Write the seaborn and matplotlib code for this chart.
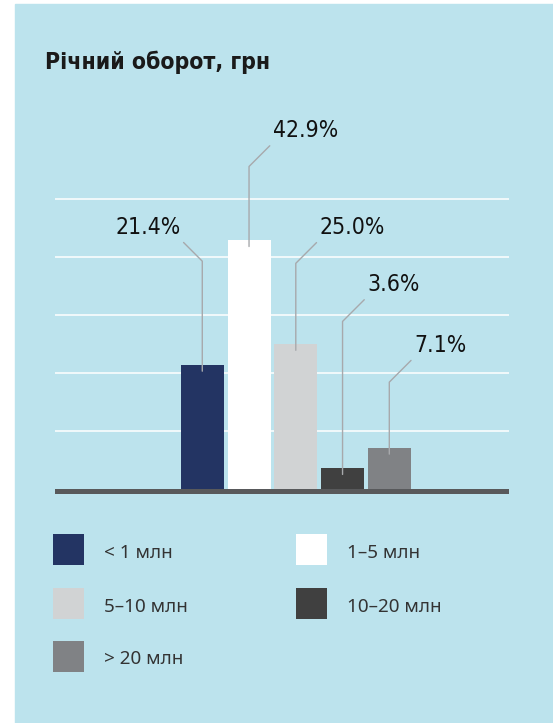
import matplotlib
matplotlib.use("Agg")
import matplotlib.pyplot as plt
import matplotlib.transforms as mtransforms
from matplotlib.patches import Rectangle
import pandas as pd
import seaborn as sns

# --- data -------------------------------------------------------------
title = "Річний оборот, грн"
categories = ["< 1 млн", "1–5 млн", "5–10 млн", "10–20 млн", "> 20 млн"]
shares = [21.4, 42.9, 25.0, 3.6, 7.1]
bar_colors = ["#233463", "#ffffff", "#d1d3d4", "#404040", "#808285"]
value_labels = [f"{v:.1f}%" for v in shares]

# --- layout -----------------------------------------------------------
W, H = 553, 723
PANEL = "#bce3ed"
CALLOUT = "#a7a9ac"
# pixel offsets (dx, dy) of each label corner from its bar's top centre
callout_offsets = [(-22, 126), (24, 98), (24, 105), (25, 172), (25, 91)]
COND = ["DejaVu Sans Condensed", "DejaVu Sans"]

sns.set_style("white")
plt.rcParams["font.family"] = ["Noto Sans", "DejaVu Sans"]

fig = plt.figure(figsize=(W / 100, H / 100), dpi=100)
fig.patch.set_facecolor("white")
fig.add_artist(Rectangle((15 / W, 0), 1 - 15 / W, 1 - 4 / H,
                         transform=fig.transFigure, color=PANEL, zorder=0))

px_per_unit = 5.8
ymin, ymax = -0.86, 52
ax_h = (ymax - ymin) * px_per_unit
ax = fig.add_axes([55 / W, (H - 494.3) / H, 454 / W, ax_h / H])
ax.set_facecolor("none")

df = pd.DataFrame({"cat": categories, "share": shares})
sns.barplot(data=df, x="cat", y="share", hue="cat", palette=bar_colors,
            order=categories, hue_order=categories, width=0.92,
            saturation=1, legend=False, linewidth=0, ax=ax, zorder=3)

ax.set_xlim(-3.15, 6.56)
ax.set_ylim(ymin, ymax)
ax.set_yticks([10, 20, 30, 40, 50])
ax.yaxis.grid(True, color="white", lw=1.1)
ax.xaxis.grid(False)
ax.set_axisbelow(True)
ax.tick_params(left=False, bottom=False, labelleft=False, labelbottom=False)
ax.set_xlabel("")
ax.set_ylabel("")
sns.despine(ax=ax, left=True, bottom=True)
ax.axhspan(ymin, 0, color="#58595b", zorder=4, lw=0)

# value callouts: vertical leader from the bar, then a 45° elbow to the label
anchor = mtransforms.offset_copy(ax.transData, fig=fig, x=0, y=-6, units="dots")
for i, (v, lab, (dx, dy)) in enumerate(zip(shares, value_labels, callout_offsets)):
    left = dx < 0
    ax.annotate(
        lab, xy=(i, v), xycoords=anchor,
        xytext=(dx, dy + 6), textcoords="offset pixels",
        ha="right" if left else "left", va="bottom",
        fontsize=16.5, family=COND, fontstretch="condensed", color="#111111",
        annotation_clip=False, zorder=5,
        arrowprops=dict(
            arrowstyle="-", color=CALLOUT, lw=1.0, shrinkA=0, shrinkB=0,
            relpos=(1, 0) if left else (0, 0),
            connectionstyle=f"angle,angleA={-45 if left else 45},angleB=90,rad=0",
        ),
    )

fig.text(45 / W, 1 - 69 / H, title, fontsize=16.5, fontweight="bold",
         family=COND, fontstretch="condensed", color="#1a1a1a", va="baseline")

# legend, laid out row by row in two columns
col_x = [53, 296]
row_top = [534, 588, 641]
sq = 31
for k, (name, col) in enumerate(zip(categories, bar_colors)):
    r, c = divmod(k, 2)
    x0, y0 = col_x[c], row_top[r]
    fig.add_artist(Rectangle((x0 / W, 1 - (y0 + sq) / H), sq / W, sq / H,
                             transform=fig.transFigure, color=col, lw=0))
    fig.text((x0 + 51) / W, 1 - (y0 + 23.5) / H, name, fontsize=13.6,
             color="#333333", va="baseline")

fig.savefig("out.png", dpi=100, facecolor=fig.get_facecolor())
